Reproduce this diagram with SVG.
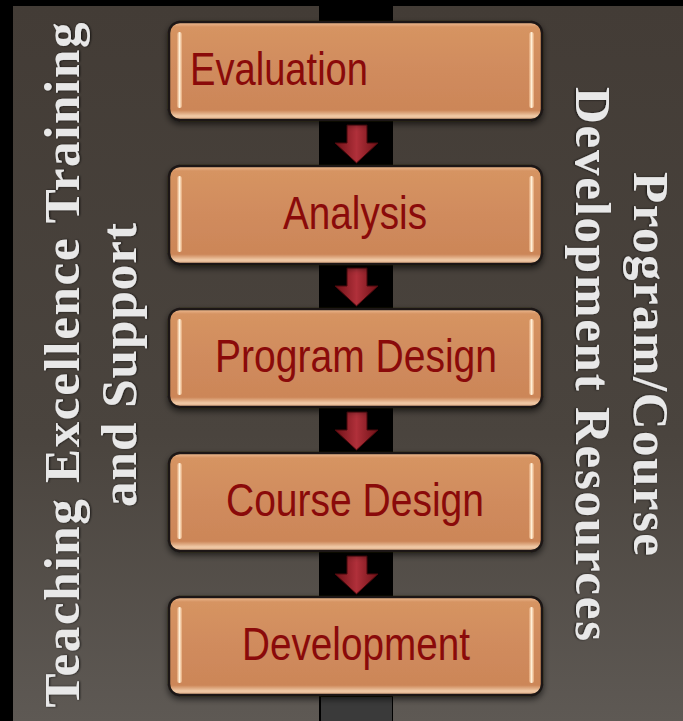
<svg xmlns="http://www.w3.org/2000/svg" width="683" height="721" viewBox="0 0 683 721">
<defs>
<linearGradient id="panel" x1="0" y1="0" x2="0" y2="1">
<stop offset="0" stop-color="#433c36"/>
<stop offset="0.6" stop-color="#4a443e"/>
<stop offset="1" stop-color="#5e5954"/>
</linearGradient>
<linearGradient id="boxfill" x1="0" y1="0" x2="0" y2="1">
<stop offset="0" stop-color="#f0c09a"/>
<stop offset="0.05" stop-color="#d69462"/>
<stop offset="0.5" stop-color="#d08b5d"/>
<stop offset="0.9" stop-color="#cc8658"/>
<stop offset="0.96" stop-color="#f1cba8"/>
<stop offset="1" stop-color="#d9a27c"/>
</linearGradient>
<linearGradient id="hl" x1="0" y1="0" x2="1" y2="0">
<stop offset="0" stop-color="#e09d6c"/>
<stop offset="0.5" stop-color="#fff0d8"/>
<stop offset="1" stop-color="#e4a676"/>
</linearGradient>
<linearGradient id="arr" x1="0" y1="0" x2="1" y2="0">
<stop offset="0" stop-color="#6e1016"/>
<stop offset="0.5" stop-color="#b0303a"/>
<stop offset="1" stop-color="#6e1016"/>
</linearGradient>
<filter id="shadow" x="-10%" y="-20%" width="120%" height="150%">
<feDropShadow dx="0" dy="3" stdDeviation="3" flood-color="#000" flood-opacity="0.6"/>
</filter>
<filter id="tshadow" x="-10%" y="-10%" width="120%" height="120%">
<feDropShadow dx="0" dy="1" stdDeviation="1" flood-color="#000" flood-opacity="0.7"/>
</filter>
<path id="arrow" d="M-9.5,-19 L10.5,-19 L10.5,-1 L21.5,-1 L0,19 L-21.5,-1 L-9.5,-1 Z"/>
</defs>
<style>
.box{fill:url(#boxfill);stroke:#1c1816;stroke-width:2.5;filter:url(#shadow)}
.hl{fill:url(#hl)}
.lbl{font-family:"Liberation Sans Narrow","Liberation Sans",Arial,sans-serif;font-size:46px;fill:#8a0a0a}
.side{font-family:"Liberation Serif","DejaVu Serif",serif;font-weight:bold;font-size:51px;fill:#e8e8e8;filter:url(#tshadow)}
.arrow{fill:url(#arr);stroke:#4a080c;stroke-width:1}
</style>
<rect x="0" y="0" width="683" height="721" fill="#000"/>
<rect x="13" y="6" width="306" height="715" fill="url(#panel)"/>
<rect x="393" y="6" width="290" height="715" fill="url(#panel)"/>
<rect x="321" y="697" width="71" height="24" fill="#3a3a3a"/>
<g id="side-left">
<text class="side" text-anchor="middle" transform="translate(79,365) rotate(-90)" textLength="685" lengthAdjust="spacing">Teaching Excellence Training</text>
<text class="side" text-anchor="middle" transform="translate(136,365) rotate(-90)" textLength="284" lengthAdjust="spacing">and Support</text>
</g>
<g id="side-right">
<text class="side" text-anchor="middle" transform="translate(634,364) rotate(90)" textLength="384" lengthAdjust="spacing">Program/Course</text>
<text class="side" text-anchor="middle" transform="translate(576,364) rotate(90)" textLength="554" lengthAdjust="spacing">Development Resources</text>
</g>
<g id="connectors">
<use href="#arrow" class="arrow" transform="translate(356.5,144)"/>
<use href="#arrow" class="arrow" transform="translate(356.5,287)"/>
<use href="#arrow" class="arrow" transform="translate(356.5,431)"/>
<use href="#arrow" class="arrow" transform="translate(356.5,575)"/>
</g>
<g id="node-evaluation">
<rect class="box" x="169" y="22" width="373" height="98" rx="11"/>
<rect class="hl" x="177" y="32" width="5" height="76" rx="2.5"/>
<rect class="hl" x="529" y="32" width="5" height="76" rx="2.5"/>
<text class="lbl" x="190" y="85" textLength="178" lengthAdjust="spacingAndGlyphs">Evaluation</text>
</g>
<g id="node-analysis">
<rect class="box" x="169" y="166" width="373" height="98" rx="11"/>
<rect class="hl" x="177" y="176" width="5" height="76" rx="2.5"/>
<rect class="hl" x="529" y="176" width="5" height="76" rx="2.5"/>
<text class="lbl" x="355" y="229" text-anchor="middle" textLength="144" lengthAdjust="spacingAndGlyphs">Analysis</text>
</g>
<g id="node-program-design">
<rect class="box" x="169" y="309" width="373" height="98" rx="11"/>
<rect class="hl" x="177" y="319" width="5" height="76" rx="2.5"/>
<rect class="hl" x="529" y="319" width="5" height="76" rx="2.5"/>
<text class="lbl" x="356" y="372" text-anchor="middle" textLength="282" lengthAdjust="spacingAndGlyphs">Program Design</text>
</g>
<g id="node-course-design">
<rect class="box" x="169" y="453" width="373" height="98" rx="11"/>
<rect class="hl" x="177" y="463" width="5" height="76" rx="2.5"/>
<rect class="hl" x="529" y="463" width="5" height="76" rx="2.5"/>
<text class="lbl" x="355" y="516" text-anchor="middle" textLength="258" lengthAdjust="spacingAndGlyphs">Course Design</text>
</g>
<g id="node-development">
<rect class="box" x="169" y="597" width="373" height="98" rx="11"/>
<rect class="hl" x="177" y="607" width="5" height="76" rx="2.5"/>
<rect class="hl" x="529" y="607" width="5" height="76" rx="2.5"/>
<text class="lbl" x="356" y="660" text-anchor="middle" textLength="228" lengthAdjust="spacingAndGlyphs">Development</text>
</g>
</svg>
